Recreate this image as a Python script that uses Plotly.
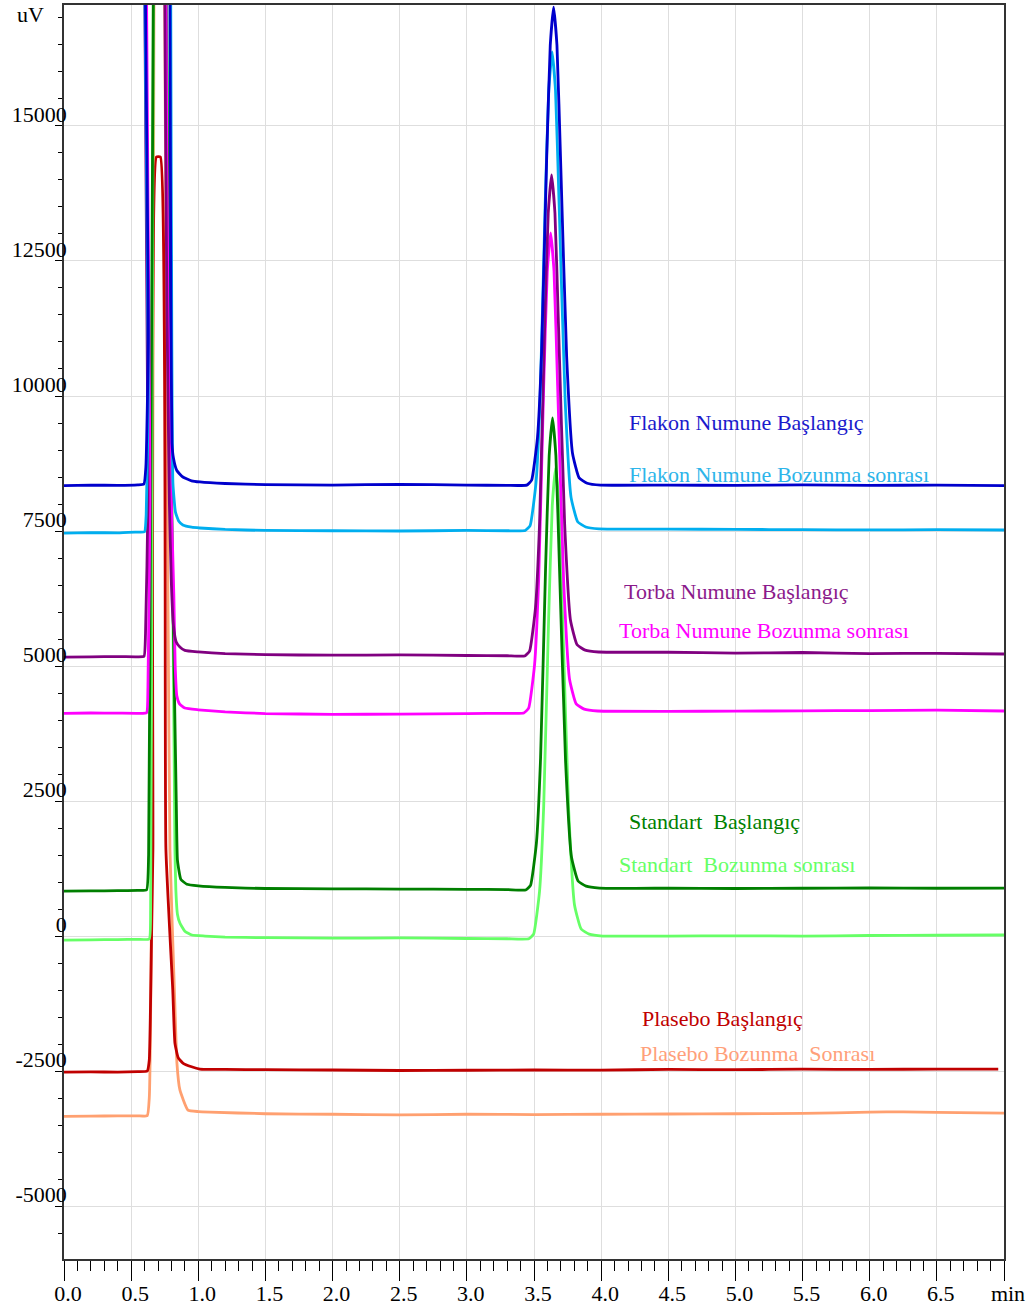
import plotly.graph_objects as go

# ---------------- axis ticks ----------------
x_tickvals = [0.0, 0.5, 1.0, 1.5, 2.0, 2.5, 3.0, 3.5, 4.0, 4.5, 5.0, 5.5, 6.0, 6.5, 7.0]
x_ticktext = ["0.0", "0.5", "1.0", "1.5", "2.0", "2.5", "3.0", "3.5", "4.0", "4.5",
              "5.0", "5.5", "6.0", "6.5", "min"]
y_tickvals = [-5000, -2500, 0, 2500, 5000, 7500, 10000, 12500, 15000]
y_ticktext = ["-5000", "-2500", "0", "2500", "5000", "7500", "10000", "12500", "15000"]

# ---------------- chromatogram data (min, uV) ----------------
flakon_bas_t = [0.00, 0.20, 0.40, 0.55, 0.595, 0.610, 0.628, 0.640, 0.785, 0.789, 0.796, 0.804, 0.815,
                0.840, 0.885, 0.95, 1.012, 1.20, 1.50, 2.00, 2.50, 3.00, 3.30, 3.446, 3.482, 3.526,
                3.557, 3.594, 3.621, 3.646, 3.671, 3.698, 3.743, 3.787, 3.836, 3.896, 3.996, 4.50,
                5.00, 5.50, 6.00, 6.50, 7.00]
flakon_bas_uv = [8340, 8350, 8345, 8355, 8370, 8700, 11000, 40000, 40000, 17300, 11780, 9130, 8850,
                 8620, 8500, 8430, 8408, 8380, 8360, 8350, 8365, 8350, 8345, 8350, 8440, 9235,
                 10828, 14368, 16492, 17200, 16492, 14368, 10740, 8934, 8483, 8385, 8350, 8350,
                 8345, 8355, 8345, 8350, 8340]

flakon_boz_t = [0.00, 0.20, 0.40, 0.55, 0.600, 0.612, 0.628, 0.640, 0.790, 0.795, 0.803, 0.811, 0.830,
                0.855, 0.885, 0.95, 1.012, 1.20, 1.50, 2.00, 2.50, 3.00, 3.30, 3.435, 3.471, 3.515,
                3.546, 3.583, 3.610, 3.635, 3.660, 3.687, 3.732, 3.776, 3.825, 3.885, 3.985, 4.50,
                5.00, 5.50, 6.00, 6.50, 7.00]
flakon_boz_uv = [7460, 7470, 7465, 7480, 7485, 7800, 10000, 40000, 40000, 17300, 11000, 8390, 7850,
                 7680, 7612, 7570, 7556, 7530, 7510, 7505, 7500, 7510, 7505, 7510, 7599, 8396,
                 9991, 13536, 15663, 16372, 15665, 13546, 9925, 8123, 7672, 7575, 7540, 7535,
                 7530, 7525, 7520, 7525, 7519]

torba_bas_t = [0.00, 0.20, 0.40, 0.55, 0.596, 0.607, 0.625, 0.645, 0.745, 0.751, 0.766, 0.785, 0.800,
               0.815, 0.835, 0.863, 0.90, 1.00, 1.20, 1.50, 2.00, 2.50, 3.00, 3.30, 3.431, 3.467,
               3.511, 3.542, 3.579, 3.606, 3.631, 3.656, 3.683, 3.728, 3.772, 3.821, 3.881, 3.981,
               4.50, 5.00, 5.50, 6.00, 6.50, 7.00]
torba_bas_uv = [5165, 5170, 5175, 5170, 5180, 5600, 8000, 40000, 40000, 17300, 11780, 8000, 6500,
                5750, 5450, 5352, 5290, 5262, 5230, 5210, 5200, 5205, 5195, 5190, 5186, 5275,
                6077, 7680, 11243, 13381, 14094, 13387, 11267, 7645, 5843, 5393, 5295, 5260,
                5255, 5240, 5250, 5230, 5235, 5223]

torba_boz_t = [0.00, 0.20, 0.40, 0.55, 0.615, 0.625, 0.640, 0.655, 0.755, 0.760, 0.774, 0.800, 0.818,
               0.828, 0.840, 0.860, 0.900, 1.00, 1.20, 1.50, 2.00, 2.50, 3.00, 3.30, 3.424, 3.460,
               3.504, 3.535, 3.572, 3.599, 3.624, 3.649, 3.676, 3.721, 3.765, 3.814, 3.874, 3.974,
               4.50, 5.00, 5.50, 6.00, 6.50, 7.00]
torba_boz_uv = [4125, 4130, 4128, 4125, 4135, 4600, 8000, 40000, 40000, 17300, 11780, 8000, 6300,
                5000, 4450, 4300, 4222, 4190, 4150, 4120, 4105, 4110, 4120, 4125, 4130, 4219,
                5019, 6619, 10175, 12309, 13020, 12312, 10187, 6557, 4751, 4300, 4202, 4167,
                4160, 4165, 4170, 4175, 4185, 4167]

standart_bas_t = [0.00, 0.20, 0.40, 0.55, 0.615, 0.630, 0.645, 0.665, 0.675, 0.745, 0.760, 0.800,
                  0.836, 0.845, 0.870, 0.915, 1.00, 1.20, 1.50, 2.00, 2.50, 3.00, 3.30, 3.438,
                  3.474, 3.518, 3.549, 3.586, 3.613, 3.638, 3.663, 3.690, 3.735, 3.779, 3.828,
                  3.888, 3.988, 4.50, 5.00, 5.50, 6.00, 6.50, 7.00]
standart_bas_uv = [830, 835, 840, 845, 855, 1500, 8000, 17300, 40000, 40000, 17300, 8000,
                   2500, 1400, 1050, 960, 930, 900, 880, 875, 870, 865, 860, 852,
                   939, 1726, 3299, 6796, 8894, 9593, 8897, 6808, 3239, 1463, 1020,
                   924, 889, 885, 880, 885, 890, 885, 889]

standart_boz_t = [0.00, 0.20, 0.40, 0.55, 0.635, 0.645, 0.655, 0.665, 0.675, 0.755, 0.765, 0.805,
                  0.826, 0.833, 0.845, 0.863, 0.900, 0.952, 1.05, 1.20, 1.50, 2.00, 2.50, 3.00,
                  3.30, 3.461, 3.497, 3.541, 3.572, 3.609, 3.636, 3.661, 3.686, 3.713, 3.758,
                  3.802, 3.851, 3.911, 4.011, 4.50, 5.00, 5.50, 6.00, 6.50, 7.00]
standart_boz_uv = [-75, -70, -65, -60, -55, 500, 8000, 17300, 40000, 40000, 17300, 8000,
                   1600, 852, 400, 241, 90, 19, 0, -20, -30, -40, -35, -45,
                   -50, -50, 37, 822, 2391, 5878, 7970, 8667, 7974, 5894, 2340,
                   572, 130, 35, 0, 0, 5, 0, 10, 15, 19]

plasebo_bas_t = [0.00, 0.20, 0.40, 0.55, 0.620, 0.635, 0.652, 0.662, 0.688, 0.718, 0.759, 0.810,
                 0.826, 0.850, 0.885, 0.950, 1.012, 1.20, 1.50, 2.00, 2.50, 3.00, 3.50, 4.00,
                 4.50, 5.00, 5.50, 6.00, 6.50, 6.957]
plasebo_bas_uv = [-2520, -2515, -2520, -2510, -2500, -2300, 0, 1600, 14427, 14427, 1600, -1000,
                  -1982, -2250, -2352, -2420, -2463, -2470, -2475, -2480, -2490, -2485, -2480, -2482,
                  -2470, -2475, -2465, -2470, -2463, -2463]

plasebo_boz_t = [0.00, 0.20, 0.40, 0.55, 0.620, 0.635, 0.650, 0.670, 0.680, 0.735, 0.750, 0.775,
                 0.789, 0.822, 0.841, 0.863, 0.923, 1.00, 1.086, 1.50, 2.00, 2.50, 3.00, 3.50,
                 4.00, 4.50, 5.00, 5.50, 6.00, 6.25, 6.50, 7.00]
plasebo_boz_uv = [-3340, -3335, -3330, -3330, -3325, -3000, 0, 17300, 40000, 40000, 17300, 6000,
                  1593, -1000, -2352, -2850, -3222, -3250, -3260, -3290, -3300, -3310, -3300, -3305,
                  -3300, -3295, -3290, -3285, -3260, -3255, -3265, -3278]

# ---------------- labels ----------------
label_texts = ["Flakon Numune Başlangıç", "Flakon Numune Bozunma sonrası",
               "Torba Numune Başlangıç", "Torba Numune Bozunma sonrası",
               "Standart  Başlangıç", "Standart  Bozunma sonrası",
               "Plasebo Başlangıç", "Plasebo Bozunma  Sonrası"]
label_x = [4.196, 4.196, 4.152, 4.115, 4.189, 4.115, 4.286, 4.271]
label_y = [9501, 8538, 6371, 5649, 2130, 1333, -1519, -2167]

line_colors = {
    "flakon_bas": "#0000CC",
    "flakon_boz": "#00AEEF",
    "torba_bas": "#800080",
    "torba_boz": "#FF00FF",
    "standart_bas": "#007F00",
    "standart_boz": "#66FF66",
    "plasebo_bas": "#C00000",
    "plasebo_boz": "#FFA070",
}
label_colors = ["#1A1ACC", "#2DB5EA", "#8B1A8B", "#FF00FF", "#008000", "#66FF66", "#C00000", "#FFA07A"]

series = [
    ("plasebo_boz", plasebo_boz_t, plasebo_boz_uv),
    ("plasebo_bas", plasebo_bas_t, plasebo_bas_uv),
    ("standart_boz", standart_boz_t, standart_boz_uv),
    ("standart_bas", standart_bas_t, standart_bas_uv),
    ("torba_boz", torba_boz_t, torba_boz_uv),
    ("torba_bas", torba_bas_t, torba_bas_uv),
    ("flakon_boz", flakon_boz_t, flakon_boz_uv),
    ("flakon_bas", flakon_bas_t, flakon_bas_uv),
]

fig = go.Figure()
for key, t, uv in series:
    fig.add_trace(go.Scatter(x=t, y=uv, mode="lines",
                             line=dict(color=line_colors[key], width=2.8, shape="spline", smoothing=0.4),
                             hoverinfo="skip", showlegend=False))

FONT = "Liberation Serif, Times New Roman, serif"

annotations = []
for txt, lx, ly, col in zip(label_texts, label_x, label_y, label_colors):
    annotations.append(dict(x=lx, y=ly, xref="x", yref="y", text=txt, showarrow=False,
                            xanchor="left", yanchor="middle",
                            font=dict(family=FONT, size=22, color=col)))
annotations.append(dict(x=0, y=17057, xref="paper", yref="y", text="uV", showarrow=False,
                        xanchor="right", yanchor="middle", xshift=-18,
                        font=dict(family=FONT, size=22, color="black")))

fig.update_layout(
    width=1027, height=1313,
    margin=dict(l=64, r=23, t=5, b=54, autoexpand=False),
    plot_bgcolor="white", paper_bgcolor="white",
    showlegend=False,
    font=dict(family=FONT, size=22, color="black"),
    annotations=annotations,
)

fig.update_xaxes(
    range=[0, 7.0], tickmode="array", tickvals=x_tickvals, ticktext=x_ticktext,
    ticks="outside", ticklen=20, tickwidth=1, tickcolor="black",
    showgrid=True, gridcolor="#DEDEDE", gridwidth=1,
    showline=True, linecolor="#333333", linewidth=1.5, mirror=True, zeroline=False,
    minor=dict(dtick=0.1, tick0=0, ticks="outside", ticklen=10, tickwidth=1, tickcolor="black",
               showgrid=False),
    ticklabelshift=4, ticklabelstandoff=-6, automargin=False,
    tickfont=dict(family=FONT, size=22, color="black"),
)
fig.update_yaxes(
    range=[-5980, 17240], tickmode="array", tickvals=y_tickvals, ticktext=y_ticktext,
    ticks="outside", ticklen=7, tickwidth=1, tickcolor="black",
    showgrid=True, gridcolor="#DEDEDE", gridwidth=1,
    showline=True, linecolor="#333333", linewidth=1.5, mirror=True, zeroline=False,
    minor=dict(dtick=500, tick0=0, ticks="outside", ticklen=4, tickwidth=1, tickcolor="black",
               showgrid=False),
    ticklabelshift=-12, ticklabelstandoff=-16, automargin=False,
    tickfont=dict(family=FONT, size=22, color="black"),
)

fig.write_html("out.html", config={"displayModeBar": False},
               post_script="document.body.style.margin='0px';")
